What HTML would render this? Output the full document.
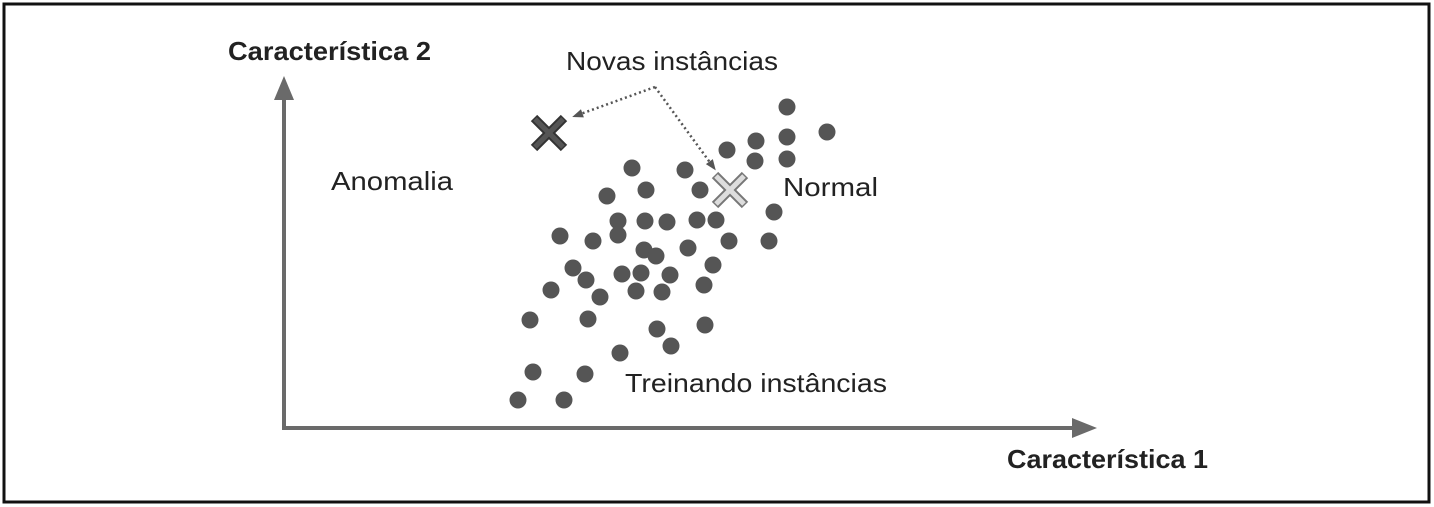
<!DOCTYPE html>
<html><head><meta charset="utf-8"><style>
html,body{margin:0;padding:0;background:#fff;}
svg{display:block;font-family:"Liberation Sans",sans-serif;}
</style></head><body>
<svg id="chart" width="1434" height="507" viewBox="0 0 1434 507">
<rect x="4" y="4" width="1425" height="498" fill="#fff" stroke="#111" stroke-width="3"/>
<g id="axes">
<line x1="284" y1="428" x2="284" y2="96" stroke="#6a6a6a" stroke-width="4"/>
<polygon points="284,76 274,100 294,100" fill="#6a6a6a"/>
<line x1="282" y1="428" x2="1075" y2="428" stroke="#6a6a6a" stroke-width="4"/>
<polygon points="1097,428 1072,418 1072,438" fill="#6a6a6a"/>
</g>
<text x="228" y="60" font-size="26" font-weight="bold" fill="#222" textLength="203" lengthAdjust="spacingAndGlyphs">Característica 2</text>
<text x="1007" y="468" font-size="26" font-weight="bold" fill="#222" textLength="201" lengthAdjust="spacingAndGlyphs">Característica 1</text>
<text x="566" y="70" font-size="26" fill="#222" textLength="212" lengthAdjust="spacingAndGlyphs">Novas instâncias</text>
<text x="331" y="190" font-size="26" fill="#222" textLength="122" lengthAdjust="spacingAndGlyphs">Anomalia</text>
<text x="783" y="196" font-size="26" fill="#222" textLength="95" lengthAdjust="spacingAndGlyphs">Normal</text>
<text x="625" y="392" font-size="26" fill="#222" textLength="262" lengthAdjust="spacingAndGlyphs">Treinando instâncias</text>
<g id="points"></g>
<g id="marks"></g>
</svg>
<script>
const trainX = [503,503,543,472,443,503,471,348,401,362,323,416,490,334,361,383,413,432,276,309,334,360,372,404,445,485,289,302,338,357,386,429,267,316,352,378,420,246,304,373,421,387,336,249,301,234,280];
const trainY = [321,291,296,287,278,269,267,260,258,238,232,238,216,207,207,206,208,208,192,187,193,178,172,180,187,187,160,148,154,155,153,163,138,131,137,136,143,108,109,99,103,82,75,56,54,28,28];
const newX = [265,446];
const newY = [295,238];
const newType = ['anomaly','normal'];
const labelPt = [371,341];

const sx = v => 284 + v;
const sy = v => 428 - v;
const NS = 'http://www.w3.org/2000/svg';
const pts = document.getElementById('points');
for (let i = 0; i < trainX.length; i++) {
  const c = document.createElementNS(NS, 'circle');
  c.setAttribute('cx', sx(trainX[i]));
  c.setAttribute('cy', sy(trainY[i]));
  c.setAttribute('r', 8.5);
  c.setAttribute('fill', '#555');
  
  
  pts.appendChild(c);
}
const marks = document.getElementById('marks');
for (let i = 0; i < newX.length; i++) {
  const cx = sx(newX[i]), cy = sy(newY[i]), h = 15;
  const g = document.createElementNS(NS, 'g');
  
  
  const fill = newType[i] === 'anomaly' ? '#555' : '#ddd';
  const outline = newType[i] === 'anomaly' ? '#333' : '#777';
  [[-1,-1,1,1],[-1,1,1,-1]].forEach(d => {
    const o = document.createElementNS(NS, 'line');
    o.setAttribute('x1', cx + d[0]*h); o.setAttribute('y1', cy + d[1]*h);
    o.setAttribute('x2', cx + d[2]*h); o.setAttribute('y2', cy + d[3]*h);
    o.setAttribute('stroke', outline); o.setAttribute('stroke-width', 9);
    g.appendChild(o);
  });
  [[-1,-1,1,1],[-1,1,1,-1]].forEach(d => {
    const o = document.createElementNS(NS, 'line');
    o.setAttribute('x1', cx + d[0]*(h-1)); o.setAttribute('y1', cy + d[1]*(h-1));
    o.setAttribute('x2', cx + d[2]*(h-1)); o.setAttribute('y2', cy + d[3]*(h-1));
    o.setAttribute('stroke', fill); o.setAttribute('stroke-width', 5);
    g.appendChild(o);
  });
  marks.appendChild(g);
  const lx = sx(labelPt[0]), ly = sy(labelPt[1]);
  const ex = newType[i] === 'anomaly' ? cx + 26 : cx - 16;
  const ey = newType[i] === 'anomaly' ? cy - 17 : cy - 22;
  const a = document.createElementNS(NS, 'line');
  a.setAttribute('x1', lx); a.setAttribute('y1', ly);
  a.setAttribute('x2', ex); a.setAttribute('y2', ey);
  a.setAttribute('stroke', '#555'); a.setAttribute('stroke-width', 2.5);
  a.setAttribute('stroke-dasharray', '2 3');
  
  
  marks.appendChild(a);
  const ang = Math.atan2(ey - ly, ex - lx), L = 9;
  const p = document.createElementNS(NS, 'polygon');
  const p1 = [ex + 3*Math.cos(ang), ey + 3*Math.sin(ang)];
  const p2 = [ex - L*Math.cos(ang - 0.5), ey - L*Math.sin(ang - 0.5)];
  const p3 = [ex - L*Math.cos(ang + 0.5), ey - L*Math.sin(ang + 0.5)];
  p.setAttribute('points', [p1, p2, p3].map(q => q.join(',')).join(' '));
  p.setAttribute('fill', '#555');
  
  
  marks.appendChild(p);
}
</script>
</body></html>
